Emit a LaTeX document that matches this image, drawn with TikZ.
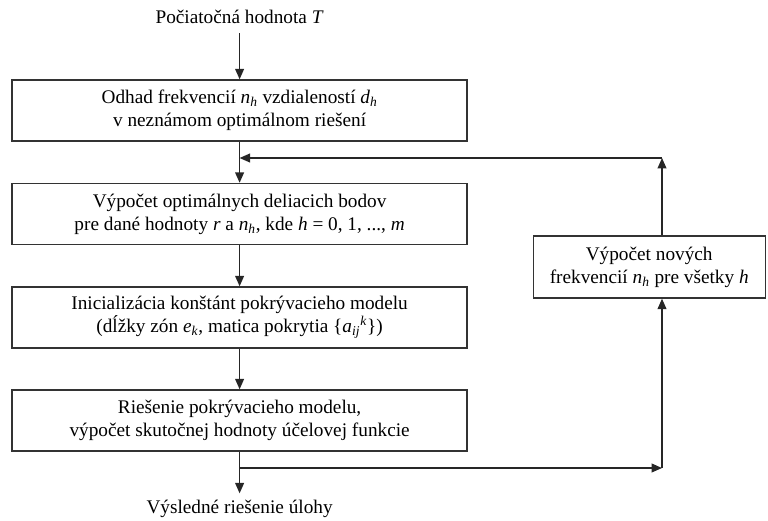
\documentclass[tikz,border=0pt]{standalone}
\usepackage{fontspec}
\setmainfont{Liberation Serif}
\usetikzlibrary{arrows.meta}
\newcommand{\idx}[2]{\textit{#1}\textsubscript{\textit{#2}}}
\def\colx{5.99}
\def\loopx{16.55}
\tikzset{
  stepbox/.style={draw=black!80, line width=1pt, minimum width=11.375cm,
    minimum height=1.525cm, align=center, inner sep=2pt},
  sidebox/.style={stepbox, minimum width=5.8cm, minimum height=1.55cm},
  plain/.style={align=center, inner sep=2pt},
  arr/.style={draw=black!85, line width=1pt,
    -{Triangle[length=2.6mm, width=2.2mm]}},
  line/.style={draw=black!85, line width=1pt}
}
\begin{document}
\begin{tikzpicture}[font=\fontsize{13.7}{16.4}\selectfont]
\useasboundingbox (0,0) rectangle (19.2,-13.025);

% text above and below the column
\node[plain] (start) at (\colx,-0.43) {Počiatočná hodnota \textit{T}};
\node[plain] (result) at (\colx,-12.72) {Výsledné riešenie úlohy};

% main steps
\node[stepbox] (odhad) at (\colx,-2.7625)
  {Odhad frekvencií \idx{n}{h} vzdialeností \idx{d}{h}\\ v neznámom optimálnom riešení};
\node[stepbox] (body) at (\colx,-5.35)
  {Výpočet optimálnych deliacich bodov\\ pre dané hodnoty \textit{r} a \idx{n}{h}, kde \textit{h} = 0, 1, ..., \textit{m}};
\node[stepbox] (init) at (\colx,-7.9375)
  {Inicializácia konštánt pokrývacieho modelu\\ (dĺžky zón \idx{e}{k}, matica pokrytia \{\textit{a}\textsubscript{\textit{ij}}\textsuperscript{\textit{k}}\})};
\node[stepbox] (riesenie) at (\colx,-10.5125)
  {Riešenie pokrývacieho modelu,\\ výpočet skutočnej hodnoty účelovej funkcie};

% side step
\node[sidebox] (nove) at (16.23,-6.675)
  {Výpočet nových\\ frekvencií \idx{n}{h} pre všetky \textit{h}};

\coordinate (join) at (\colx,-3.95);
\coordinate (looptop) at (\loopx,-3.95);
\coordinate (split) at (\colx,-11.7);
\coordinate (loopbot) at (\loopx,-11.7);

% connectors
\draw[arr] ([yshift=-1.6mm]start.south) -- (odhad.north);
\draw[arr] (odhad.south) -- (body.north);
\draw[arr] (body.south) -- (init.north);
\draw[arr] (init.south) -- (riesenie.north);
\draw[arr] (riesenie.south) -- ([yshift=0.9mm]result.north);

% loop back
\draw[arr] (split) -- (loopbot);
\draw[arr] (loopbot) -- (nove.south -| loopbot);
\draw[arr] (nove.north -| looptop) -- (looptop);
\draw[arr] (looptop) -- (join);
\end{tikzpicture}
\end{document}
